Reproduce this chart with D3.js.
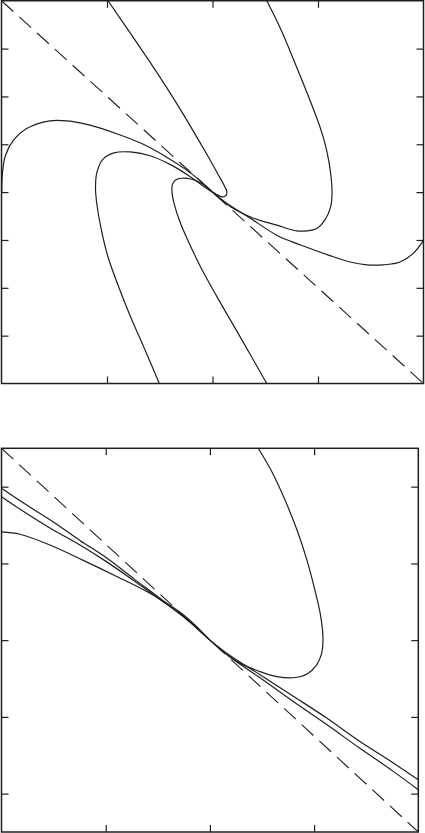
<!DOCTYPE html>
<html>
<head>
<meta charset="utf-8">
<script src="https://cdn.jsdelivr.net/npm/d3@7"></script>
<style>
html,body{margin:0;padding:0;background:#fff;}
svg{display:block;}
</style>
</head>
<body>
<svg id="chart" width="425" height="833"></svg>
<script>
// ---------- data ----------
// Top panel: x in [-2,2], y in [-4,4]
const topXTicks = [-1, 0, 1];
const topYTicks = [-3, -2, -1, 0, 1, 2, 3];
const topDashed = [[-2, 4], [2, -4]];
const topCurveA = [[-0.990,4.0],[-0.763,3.27],[-0.545,2.56],[-0.346,1.875],[-0.175,1.25],[-0.043,0.75],[0.052,0.375],[0.114,0.125],[0.137,0],[0.123,-0.083],[0.081,-0.094],[0.038,-0.048],[0,0]];
const topCurveB = [[0.514,4.0],[0.640,3.44],[0.798,2.61],[0.924,1.92],[1.019,1.36],[1.082,0.875],[1.120,0.39],[1.133,-0.02],[1.120,-0.31],[1.066,-0.58],[0.988,-0.76],[0.893,-0.81],[0.798,-0.81],[0.609,-0.69],[0.384,-0.54],[0.175,-0.31],[0,0]];
const topCurveC = [[2.0,-1.01],[1.903,-1.28],[1.777,-1.46],[1.619,-1.52],[1.462,-1.52],[1.303,-1.46],[1.145,-1.35],[0.829,-1.10],[0.609,-0.90],[0.355,-0.54],[0.135,-0.23],[0,0]];
const topCurveL1 = [[-1.998,0],[-1.99,0.42],[-1.962,0.77],[-1.888,1.08],[-1.761,1.33],[-1.540,1.49],[-1.382,1.49],[-1.161,1.40],[-0.908,1.22],[-0.656,1.00],[-0.434,0.73],[-0.245,0.46],[-0.118,0.24],[0,0]];
const topCurveL2 = [[-0.504,-4.0],[-0.649,-3.25],[-0.782,-2.58],[-0.896,-1.94],[-0.991,-1.35],[-1.057,-0.75],[-1.095,-0.27],[-1.109,0.083],[-1.095,0.417],[-1.038,0.69],[-0.934,0.82],[-0.782,0.84],[-0.592,0.76],[-0.403,0.58],[-0.232,0.354],[-0.100,0.146],[0,0]];
const topCurveL3 = [[0.514,-4.0],[0.261,-3.02],[0.043,-2.19],[-0.109,-1.58],[-0.223,-1.06],[-0.308,-0.625],[-0.360,-0.27],[-0.384,0],[-0.379,0.167],[-0.346,0.26],[-0.289,0.29],[-0.213,0.28],[-0.128,0.21],[-0.052,0.104],[0,0]];

// Bottom panel: x in [-2,2], y in [-2.5,2.5]
const botXTicks = [-1, 0, 1];
const botYTicks = [-2, -1, 0, 1, 2];
const botDashed = [[-2, 2.5], [2, -2.5]];
const botCurveD1 = [[-2.0,1.98],[-1.758,1.76],[-1.503,1.54],[-1.247,1.30],[-0.990,1.07],[-0.735,0.805],[-0.479,0.545],[-0.223,0.275],[0,0]];
const botCurveD2 = [[-2.0,1.87],[-1.758,1.65],[-1.503,1.435],[-1.247,1.24],[-0.990,1.02],[-0.735,0.78],[-0.479,0.53],[-0.223,0.27],[0,0]];
const botCurveD3 = [[-2.0,1.41],[-1.822,1.38],[-1.535,1.24],[-1.215,1.04],[-0.894,0.83],[-0.575,0.61],[-0.255,0.33],[0,0]];
const botCurveR1 = [[0,0],[0.193,-0.20],[0.481,-0.45],[0.800,-0.73],[1.121,-1.015],[1.440,-1.32],[1.760,-1.60],[2.0,-1.82]];
const botCurveR2 = [[0,0],[0.193,-0.22],[0.481,-0.49],[0.800,-0.80],[1.121,-1.10],[1.440,-1.41],[1.760,-1.71],[2.0,-1.95]];
const botCurveLoop = [[0.464,2.50],[0.596,2.19],[0.721,1.825],[0.836,1.435],[0.932,1.04],[1.008,0.65],[1.061,0.33],[1.085,0.03],[1.071,-0.18],[1.023,-0.325],[0.932,-0.44],[0.798,-0.49],[0.644,-0.475],[0.481,-0.41],[0.260,-0.28],[0.097,-0.116],[0,0]];

// ---------- drawing ----------
const svg = d3.select("#chart");
const ink = "#1e1e1e";

function panel(opts) {
  const {id, left, right, top, bottom, xDomain, yDomain, xTicks, yTicks, dashed, curves} = opts;
  const x = d3.scaleLinear().domain(xDomain).range([left, right]);
  const y = d3.scaleLinear().domain(yDomain).range([bottom, top]);
  const g = svg.append("g");

  g.append("clipPath").attr("id", id)
    .append("rect").attr("x", left).attr("y", top)
    .attr("width", right - left).attr("height", bottom - top);

  const line = d3.line().x(d => x(d[0])).y(d => y(d[1])).curve(d3.curveCatmullRom.alpha(0.5));
  const plot = g.append("g").attr("clip-path", `url(#${id})`);

  plot.append("path").datum(dashed)
    .attr("d", d3.line().x(d => x(d[0])).y(d => y(d[1])))
    .attr("fill", "none").attr("stroke", ink).attr("stroke-width", 1.1)
    .attr("stroke-dasharray", "16,8");

  plot.selectAll("path.curve").data(curves).join("path")
    .attr("class", "curve")
    .attr("d", line)
    .attr("fill", "none").attr("stroke", ink).attr("stroke-width", 1.2);

  // inward ticks, no labels
  const tick = 7;
  const style = sel => { sel.select(".domain").remove(); sel.selectAll("text").remove(); sel.selectAll("line").attr("stroke", ink).attr("stroke-width", 1.2); };
  g.append("g").attr("transform", `translate(0,${top})`)
    .call(d3.axisBottom(x).tickValues(xTicks).tickSize(tick).tickFormat("")).call(style);
  g.append("g").attr("transform", `translate(0,${bottom})`)
    .call(d3.axisTop(x).tickValues(xTicks).tickSize(tick).tickFormat("")).call(style);
  g.append("g").attr("transform", `translate(${left},0)`)
    .call(d3.axisRight(y).tickValues(yTicks).tickSize(tick).tickFormat("")).call(style);
  g.append("g").attr("transform", `translate(${right},0)`)
    .call(d3.axisLeft(y).tickValues(yTicks).tickSize(tick).tickFormat("")).call(style);

  g.append("rect").attr("x", left).attr("y", top)
    .attr("width", right - left).attr("height", bottom - top)
    .attr("fill", "none").attr("stroke", ink).attr("stroke-width", 1.5);
}

panel({
  id: "clipTop", left: 1.5, right: 423.5, top: 0.75, bottom: 383.5,
  xDomain: [-2, 2], yDomain: [-4, 4], xTicks: topXTicks, yTicks: topYTicks,
  dashed: topDashed,
  curves: [topCurveA, topCurveB, topCurveC, topCurveL1, topCurveL2, topCurveL3]
});

panel({
  id: "clipBot", left: 1.5, right: 418.3, top: 448.3, bottom: 832,
  xDomain: [-2, 2], yDomain: [-2.5, 2.5], xTicks: botXTicks, yTicks: botYTicks,
  dashed: botDashed,
  curves: [botCurveD1, botCurveD2, botCurveD3, botCurveR1, botCurveR2, botCurveLoop]
});
</script>
</body>
</html>
